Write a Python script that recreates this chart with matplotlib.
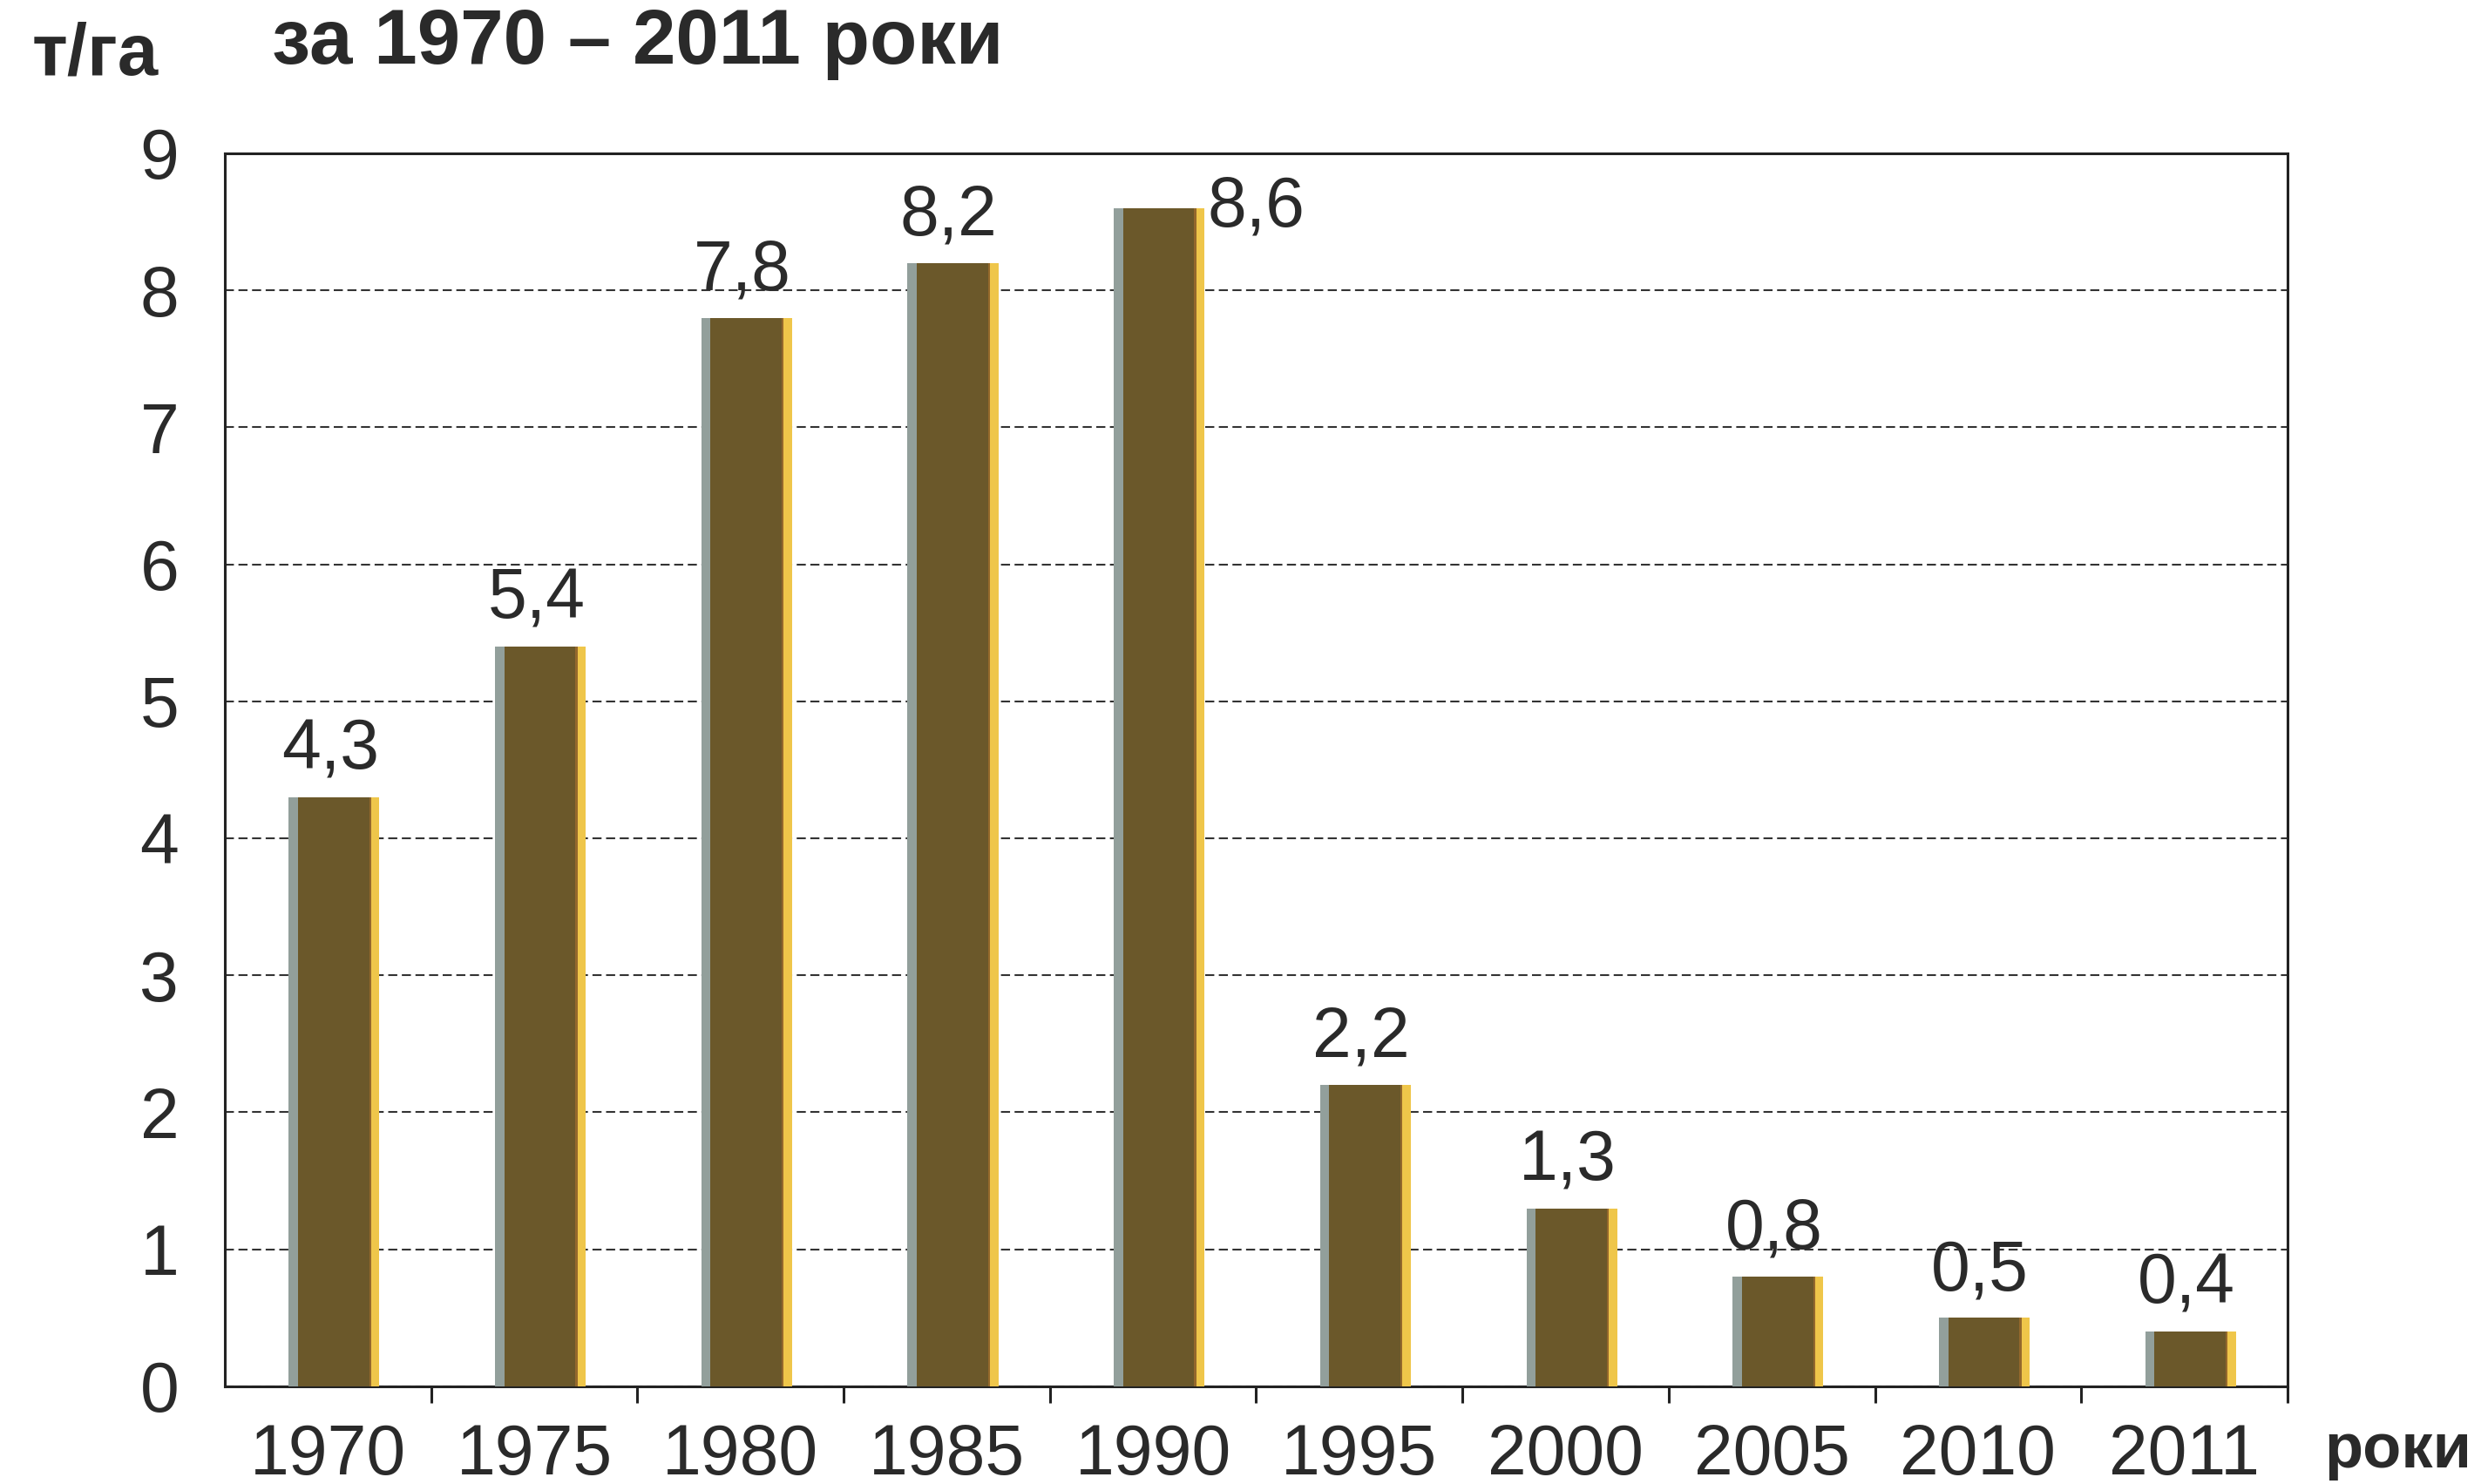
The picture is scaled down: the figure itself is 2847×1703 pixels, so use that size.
import numpy as np
import matplotlib.pyplot as plt

# Yield data, t/ha
years = ['1970', '1975', '1980', '1985', '1990', '1995', '2000', '2005', '2010', '2011']
yields = [4.3, 5.4, 7.8, 8.2, 8.6, 2.2, 1.3, 0.8, 0.5, 0.4]
labels = ['4,3', '5,4', '7,8', '8,2', '8,6', '2,2', '1,3', '0,8', '0,5', '0,4']

plt.rcParams['font.family'] = ['Liberation Sans', 'DejaVu Sans']

fig = plt.figure(figsize=(28.47, 17.03), dpi=100)
ax = fig.add_axes([0.0906, 0.0658, 0.8314, 0.8309])

x = np.arange(len(years))
shift = 0.03
bar_w = 0.44
bar_color = '#6b582a'
text_color = '#2a2a2a'

ax.bar(x + shift, yields, width=bar_w, color=bar_color, zorder=3)
# print misregistration fringes on the bar edges
blue_w, yel_w = 0.045, 0.04
ax.bar(x + shift - bar_w / 2 + blue_w / 2, yields, width=blue_w, color='#929f9b', zorder=3)
ax.bar(x + shift + bar_w / 2 - yel_w / 2, yields, width=yel_w, color='#efc64a', zorder=3)
ax.bar(x + shift + bar_w / 2 - yel_w - 0.005, yields, width=0.01, color='#94682c', zorder=3)

for i, (v, t) in enumerate(zip(yields, labels)):
    if v > 8.4:
        ax.annotate(t, (x[i] + shift + bar_w / 2, v), xytext=(2, 0),
                    textcoords='offset points', ha='left', va='center',
                    fontsize=58, color=text_color)
    else:
        ax.annotate(t, (x[i] + shift - 0.02, v), xytext=(0, 11),
                    textcoords='offset points', ha='center', va='bottom',
                    fontsize=58, color=text_color)

ax.set_xlim(-0.5, 9.5)
ax.set_ylim(0, 9)
ax.set_yticks(range(10))
ax.set_xticks(x)
ax.set_xticklabels(years)
ax.set_xticks(np.arange(0.5, 10, 1), minor=True)

ax.tick_params(axis='y', length=0, pad=38, labelsize=58, labelcolor=text_color)
ax.tick_params(axis='x', which='major', length=0, pad=30, labelsize=58, labelcolor=text_color)
ax.tick_params(axis='x', which='minor', length=14, width=2.2, direction='out', color='#222222')

ax.yaxis.grid(True, linestyle=(0, (5, 2.5)), linewidth=1.5, color='#333333', zorder=1)
ax.set_axisbelow(True)

for sp in ax.spines.values():
    sp.set_linewidth(2.2)
    sp.set_color('#222222')

fig.text(0.0128, 0.950, 'т/га', fontsize=60, fontweight='bold', color=text_color, va='baseline')
fig.text(0.1097, 0.957, 'за 1970 – 2011 роки', fontsize=64, fontweight='bold',
         color=text_color, va='baseline')
fig.text(0.937, 0.011, 'роки', fontsize=52, fontweight='bold', color=text_color, va='baseline')

fig.savefig('out.png', dpi=100, facecolor='white')
